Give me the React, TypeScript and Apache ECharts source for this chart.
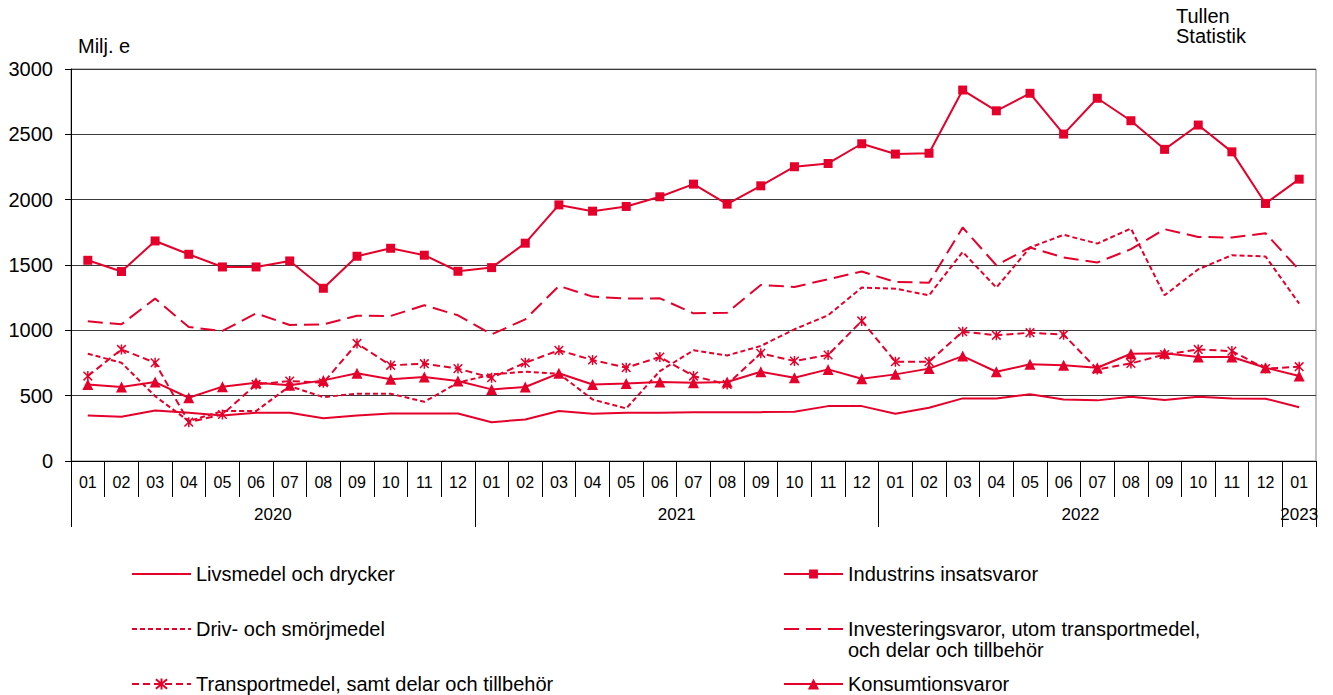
import React, { useEffect, useRef } from 'react';
import * as echarts from 'echarts';

const categories = [
  '2020-01', '2020-02', '2020-03', '2020-04', '2020-05', '2020-06', '2020-07', '2020-08', '2020-09', '2020-10', '2020-11', '2020-12',
  '2021-01', '2021-02', '2021-03', '2021-04', '2021-05', '2021-06', '2021-07', '2021-08', '2021-09', '2021-10', '2021-11', '2021-12',
  '2022-01', '2022-02', '2022-03', '2022-04', '2022-05', '2022-06', '2022-07', '2022-08', '2022-09', '2022-10', '2022-11', '2022-12',
  '2023-01',
];
const years = ['2020', '2021', '2022', '2023'];

const livsmedel = [349, 339, 387, 369, 349, 369, 369, 328, 349, 364, 364, 364, 297, 318, 382, 361, 369, 369, 374, 374, 374, 377, 420, 420, 361, 408, 479, 479, 510, 471, 464, 492, 466, 492, 479, 477, 412];
const industrins = [1536, 1450, 1684, 1582, 1485, 1485, 1531, 1322, 1567, 1628, 1575, 1452, 1480, 1667, 1960, 1912, 1948, 2022, 2119, 1966, 2106, 2252, 2277, 2428, 2349, 2355, 2839, 2680, 2814, 2502, 2776, 2604, 2385, 2571, 2366, 1971, 2157];
const driv = [821, 752, 496, 305, 382, 382, 573, 489, 515, 515, 453, 599, 663, 683, 668, 471, 402, 688, 847, 808, 880, 1008, 1115, 1327, 1319, 1268, 1600, 1327, 1634, 1731, 1664, 1779, 1268, 1467, 1575, 1565, 1205];
const investering = [1069, 1046, 1243, 1025, 995, 1130, 1041, 1046, 1112, 1110, 1192, 1115, 969, 1084, 1340, 1258, 1243, 1245, 1130, 1135, 1347, 1332, 1391, 1450, 1370, 1365, 1787, 1498, 1634, 1557, 1519, 1621, 1774, 1715, 1710, 1743, 1462];
const transport = [650, 854, 752, 297, 356, 586, 612, 599, 900, 732, 745, 707, 637, 752, 847, 773, 714, 796, 650, 586, 824, 765, 811, 1072, 760, 760, 990, 962, 982, 967, 701, 747, 814, 854, 841, 707, 722];
const konsumtion = [586, 566, 604, 484, 569, 599, 579, 617, 671, 625, 642, 612, 548, 566, 671, 586, 594, 604, 599, 604, 683, 637, 701, 630, 663, 707, 803, 683, 740, 732, 714, 821, 824, 796, 796, 714, 650];

const NAME_LIV = 'Livsmedel och drycker';
const NAME_IND = 'Industrins insatsvaror';
const NAME_DRIV = 'Driv- och smörjmedel';
const NAME_INV = 'Investeringsvaror, utom transportmedel,';
const NAME_INV2 = 'och delar och tillbehör';
const NAME_TRA = 'Transportmedel, samt delar och tillbehör';
const NAME_KON = 'Konsumtionsvaror';
const UNIT = 'Milj. e';
const SOURCE = 'Tullen\nStatistik';

const RED = '#e4002b';
const FONT = '"Liberation Sans", Arial, sans-serif';
const ASTERISK = 'path://M5,0L5,10M0.7,0.7L9.3,9.3M0.7,9.3L9.3,0.7';

const monthLabels = categories.map((c) => c.slice(5));
const yearStart = years.map((y) => categories.findIndex((c) => c.startsWith(y)));
const yearEnd = years.map((y) => {
  let last = -1;
  categories.forEach((c, i) => { if (c.startsWith(y)) last = i; });
  return last + 1;
});
const yearCenters = years.map((_, i) => (yearStart[i] + yearEnd[i]) / 2);
const yearBounds = [...yearStart, categories.length];

export default function App() {
  const ref = useRef<HTMLDivElement>(null);

  useEffect(() => {
    if (!ref.current) return;
    const chart = echarts.init(ref.current, undefined, { renderer: 'svg' });

    const legendText = { fontSize: 20, fontFamily: FONT, color: '#000', lineHeight: 22 };
    const mkLegend = (name: string, left: number, center: number, itemHeight: number, hideSymbol: boolean) => ({
      data: [hideSymbol ? { name, itemStyle: { opacity: 0 } } : { name }],
      left,
      top: center - 11,
      orient: 'horizontal',
      padding: 0,
      itemWidth: 59,
      itemHeight,
      itemGap: 0,
      selectedMode: false,
      textStyle: legendText,
    });

    const option: any = {
      animation: false,
      backgroundColor: '#fff',
      grid: { left: 71, right: 17, top: 69, bottom: 234, show: true, borderColor: '#808080', borderWidth: 1, backgroundColor: 'transparent' },
      xAxis: [
        {
          type: 'category',
          data: monthLabels,
          boundaryGap: true,
          position: 'bottom',
          axisLine: { show: true, lineStyle: { color: '#000', width: 1 } },
          axisTick: { show: true, interval: 0, length: 36, lineStyle: { color: '#000', width: 1 } },
          axisLabel: { interval: 0, fontSize: 16, fontFamily: FONT, color: '#000', margin: 13 },
          splitLine: { show: false },
        },
        {
          type: 'value',
          position: 'bottom',
          min: 0,
          max: categories.length,
          axisLine: { show: false },
          splitLine: { show: false },
          axisTick: { show: true, customValues: yearBounds, length: 66, lineStyle: { color: '#000', width: 1 } },
          axisLabel: {
            show: true,
            customValues: yearCenters,
            formatter: (v: number) => {
              const i = yearCenters.indexOf(v);
              return i >= 0 ? years[i] : '';
            },
            fontSize: 17,
            fontFamily: FONT,
            color: '#000',
            margin: 45,
          },
        },
      ],
      yAxis: {
        type: 'value',
        min: 0,
        max: 3000,
        interval: 500,
        axisLine: { show: true, lineStyle: { color: '#000', width: 1 } },
        axisTick: { show: true, length: 6, lineStyle: { color: '#000' } },
        axisLabel: { fontSize: 20, fontFamily: FONT, color: '#000', margin: 18, formatter: (v: number) => String(v) },
        splitLine: { show: true, lineStyle: { color: '#3a3a3a', width: 1 } },
      },
      legend: [
        mkLegend(NAME_LIV, 131, 574, 14, true),
        mkLegend(NAME_DRIV, 131, 629, 14, true),
        mkLegend(NAME_TRA, 131, 684, 14, false),
        mkLegend(NAME_IND, 783, 574, 11, false),
        mkLegend(NAME_INV, 783, 629, 14, true),
        mkLegend(NAME_KON, 783, 684, 14, false),
      ],
      graphic: [
        { type: 'text', left: 78, top: 36, style: { text: UNIT, fontSize: 20, fontFamily: FONT, fill: '#000' } },
        { type: 'text', left: 1176, top: 6, style: { text: SOURCE, fontSize: 20, lineHeight: 20, fontFamily: FONT, fill: '#000' } },
        { type: 'text', left: 848, top: 640, style: { text: NAME_INV2, fontSize: 20, fontFamily: FONT, fill: '#000' } },
      ],
      series: [
        {
          name: NAME_LIV, type: 'line', data: livsmedel, xAxisIndex: 0, symbol: 'none',
          lineStyle: { color: RED, width: 2 }, itemStyle: { color: RED }, z: 2,
        },
        {
          name: NAME_IND, type: 'line', data: industrins, xAxisIndex: 0, symbol: 'rect', symbolSize: 9,
          lineStyle: { color: RED, width: 2 }, itemStyle: { color: RED }, z: 3,
        },
        {
          name: NAME_DRIV, type: 'line', data: driv, xAxisIndex: 0, symbol: 'none',
          lineStyle: { color: RED, width: 2, type: [5, 3] }, itemStyle: { color: RED }, z: 2,
        },
        {
          name: NAME_INV, type: 'line', data: investering, xAxisIndex: 0, symbol: 'none',
          lineStyle: { color: RED, width: 2, type: [15, 7] }, itemStyle: { color: RED }, z: 2,
        },
        {
          name: NAME_TRA, type: 'line', data: transport, xAxisIndex: 0, symbol: ASTERISK, symbolSize: 10,
          symbolKeepAspect: true,
          lineStyle: { color: RED, width: 2, type: [7, 4] },
          itemStyle: { color: RED, borderColor: RED, borderWidth: 1.5 }, z: 3,
        },
        {
          name: NAME_KON, type: 'line', data: konsumtion, xAxisIndex: 0, symbol: 'triangle', symbolSize: 11,
          lineStyle: { color: RED, width: 2 }, itemStyle: { color: RED }, z: 3,
        },
      ],
    };

    chart.setOption(option);
    return () => chart.dispose();
  }, []);

  return <div ref={ref} style={{ position: 'absolute', left: 0, top: 0, width: 1333, height: 695 }} />;
}
